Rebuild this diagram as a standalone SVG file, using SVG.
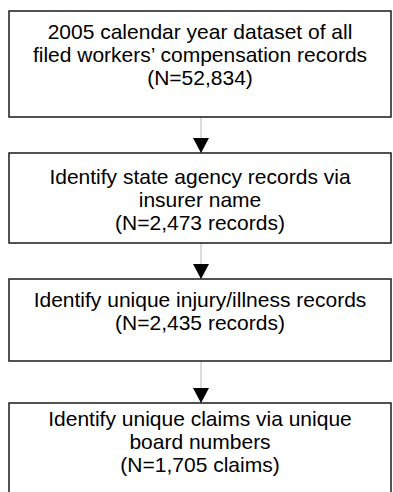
<svg xmlns="http://www.w3.org/2000/svg" width="393" height="492" viewBox="0 0 393 492">
<defs>
<style>
.box{fill:#fff;stroke:#1a1a1a;stroke-width:1.5}
.t{font-family:"Liberation Sans",Arial,sans-serif;font-size:21px;fill:#000;text-anchor:middle}
.c{stroke:#b8b8b8;stroke-width:1;fill:none}
</style>
<marker id="ah" markerUnits="userSpaceOnUse" markerWidth="16" markerHeight="16" refX="15" refY="8" orient="auto" viewBox="0 0 16 16">
<path d="M0,0 L15,8 L0,16 Z" fill="#000"/>
</marker>
</defs>
<rect width="393" height="492" fill="#fff"/>
<g id="connectors">
<line class="c" x1="201" y1="117" x2="201" y2="153" marker-end="url(#ah)"/>
<line class="c" x1="201" y1="243" x2="201" y2="279" marker-end="url(#ah)"/>
<line class="c" x1="201" y1="361" x2="201" y2="403" marker-end="url(#ah)"/>
</g>
<g id="n1">
<rect class="box" x="9" y="11" width="382" height="106"/>
<text class="t" x="200" y="39">2005 calendar year dataset of all</text>
<text class="t" x="200" y="62">filed workers’ compensation records</text>
<text class="t" x="200" y="85">(N=52,834)</text>
</g>
<g id="n2">
<rect class="box" x="9" y="153" width="382" height="90"/>
<text class="t" x="200" y="184">Identify state agency records via</text>
<text class="t" x="200" y="207">insurer name</text>
<text class="t" x="200" y="230">(N=2,473 records)</text>
</g>
<g id="n3">
<rect class="box" x="9" y="279" width="382" height="82"/>
<text class="t" x="200" y="307">Identify unique injury/illness records</text>
<text class="t" x="200" y="330">(N=2,435 records)</text>
</g>
<g id="n4">
<rect class="box" x="9" y="403" width="382" height="100"/>
<text class="t" x="200" y="426">Identify unique claims via unique</text>
<text class="t" x="200" y="449">board numbers</text>
<text class="t" x="200" y="472">(N=1,705 claims)</text>
</g>
</svg>
